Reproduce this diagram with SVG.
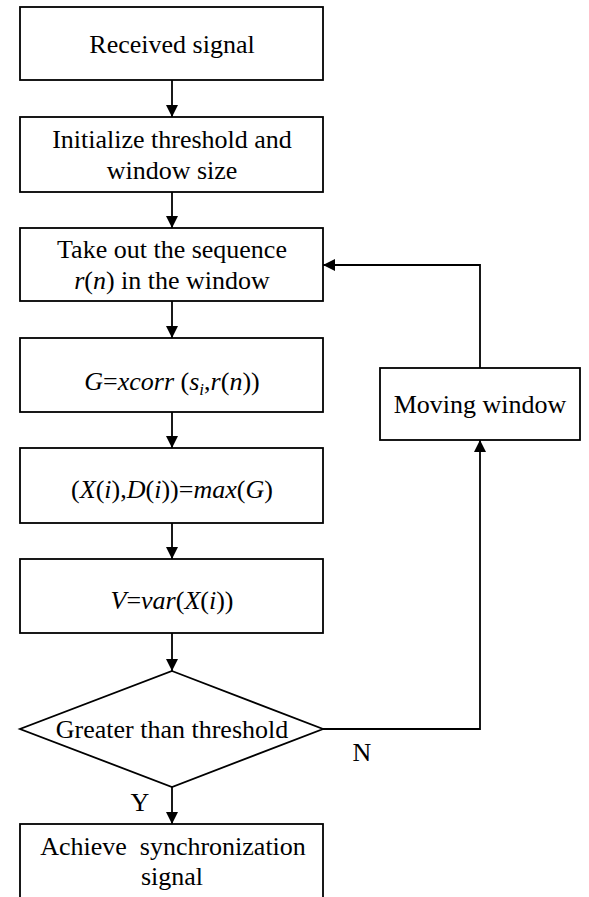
<svg xmlns="http://www.w3.org/2000/svg" width="589" height="897" viewBox="0 0 589 897">
<defs>
<marker id="ah" viewBox="0 0 12 12" refX="12" refY="6" markerWidth="12" markerHeight="12" markerUnits="userSpaceOnUse" orient="auto">
<path d="M0,0 L12,6 L0,12 Z" fill="#000"/>
</marker>
</defs>
<rect width="589" height="897" fill="#fff"/>
<g id="connectors" fill="none" stroke="#000" stroke-width="1.8">
<line x1="172" y1="80" x2="172" y2="117" marker-end="url(#ah)"/>
<line x1="172" y1="192" x2="172" y2="228" marker-end="url(#ah)"/>
<line x1="172" y1="301" x2="172" y2="338" marker-end="url(#ah)"/>
<line x1="172" y1="412" x2="172" y2="448" marker-end="url(#ah)"/>
<line x1="172" y1="523" x2="172" y2="559" marker-end="url(#ah)"/>
<line x1="172" y1="633" x2="172" y2="671" marker-end="url(#ah)"/>
<line x1="172" y1="787" x2="172" y2="824" marker-end="url(#ah)"/>
<polyline points="323,729 480,729 480,440" marker-end="url(#ah)"/>
<polyline points="480,368 480,265 323,265" marker-end="url(#ah)"/>
</g>
<g id="labels" font-family="Liberation Serif, serif" font-size="26" fill="#000" text-anchor="middle">
<text x="362" y="761">N</text>
<text x="140" y="811">Y</text>
</g>
<g id="nodes" font-family="Liberation Serif, serif" font-size="26" text-anchor="middle">
<g id="n1">
<rect x="20" y="7" width="303" height="73" fill="#fff" stroke="#000" stroke-width="1.8"/>
<text x="172" y="53">Received signal</text>
</g>
<g id="n2">
<rect x="20" y="117" width="303" height="75" fill="#fff" stroke="#000" stroke-width="1.8"/>
<text x="172" y="148">Initialize threshold and</text>
<text x="172" y="179">window size</text>
</g>
<g id="n3">
<rect x="20" y="228" width="303" height="73" fill="#fff" stroke="#000" stroke-width="1.8"/>
<text x="172" y="258">Take out the sequence</text>
<text x="172" y="289"><tspan font-style="italic">r</tspan>(<tspan font-style="italic">n</tspan>) in the window</text>
</g>
<g id="n4">
<rect x="20" y="338" width="303" height="74" fill="#fff" stroke="#000" stroke-width="1.8"/>
<text x="172" y="390"><tspan font-style="italic">G</tspan>=<tspan font-style="italic">xcorr</tspan> (<tspan font-style="italic">s</tspan><tspan font-style="italic" font-size="17" dy="5">i</tspan><tspan dy="-5">,</tspan><tspan font-style="italic">r</tspan>(<tspan font-style="italic">n</tspan>))</text>
</g>
<g id="n5">
<rect x="20" y="448" width="303" height="75" fill="#fff" stroke="#000" stroke-width="1.8"/>
<text x="172" y="498">(<tspan font-style="italic">X</tspan>(<tspan font-style="italic">i</tspan>),<tspan font-style="italic">D</tspan>(<tspan font-style="italic">i</tspan>))=<tspan font-style="italic">max</tspan>(<tspan font-style="italic">G</tspan>)</text>
</g>
<g id="n6">
<rect x="20" y="559" width="303" height="74" fill="#fff" stroke="#000" stroke-width="1.8"/>
<text x="172" y="609"><tspan font-style="italic">V</tspan>=<tspan font-style="italic">var</tspan>(<tspan font-style="italic">X</tspan>(<tspan font-style="italic">i</tspan>))</text>
</g>
<g id="n7">
<polygon points="172,671 323,729 172,787 20,729" fill="#fff" stroke="#000" stroke-width="1.8"/>
<text x="172" y="738">Greater than threshold</text>
</g>
<g id="n8">
<rect x="20" y="824" width="303" height="90" fill="#fff" stroke="#000" stroke-width="1.8"/>
<text x="173" y="855" xml:space="preserve">Achieve  synchronization</text>
<text x="172" y="885">signal</text>
</g>
<g id="n9">
<rect x="380" y="368" width="200" height="72" fill="#fff" stroke="#000" stroke-width="1.8"/>
<text x="480" y="413">Moving window</text>
</g>
</g>
</svg>
